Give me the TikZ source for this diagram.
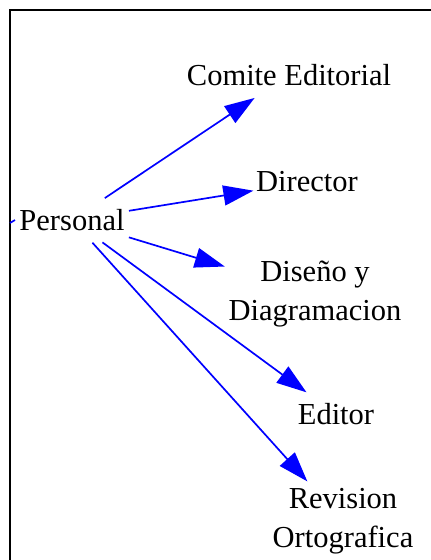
\documentclass[tikz,border=0pt]{standalone}
\usepackage{fontspec}
\setmainfont{Liberation Serif}
\usetikzlibrary{arrows.meta}
\begin{document}
\begin{tikzpicture}[x=1pt,y=-1pt,
  lbl/.style={inner sep=0pt, align=center, font=\fontsize{30.5}{39}\selectfont},
  edge/.style={draw={rgb,255:red,0;green,0;blue,255}, line width=1.7pt,
    -{Triangle[length=30pt,width=20pt]}},
  stub/.style={draw={rgb,255:red,0;green,0;blue,255}, line width=1.7pt}]
\useasboundingbox (0,0) rectangle (431,560);
\fill[white] (0,0) rectangle (431,560);
\draw[line width=2pt] (10,562) -- (10,10) -- (433,10);

\node[lbl] (personal) at (72,220) {Personal};
\node[lbl] (comite) at (289,75) {Comite Editorial};
\node[lbl] (director) at (307,182) {Director};
\node[lbl] (diseno) at (315,294) {Diseño y\\Diagramacion};
\node[lbl] (editor) at (336,414) {Editor};
\node[lbl] (revision) at (343,521) {Revision\\Ortografica};
\coordinate (lft) at (10,223);

\draw[stub] (lft) -- ([xshift=-57pt]personal.center);
\draw[edge, shorten <=39.4pt, shorten >=41.3pt] (personal.center) -- (comite.center);
\draw[edge, shorten <=57.7pt, shorten >=54.3pt] (personal.center) -- (director.center);
\draw[edge, shorten <=59.5pt, shorten >=94.3pt] (personal.center) -- (diseno.center);
\draw[edge, shorten <=37.8pt, shorten >=36.6pt] (personal.center) -- (editor.center);
\draw[edge, shorten <=30.5pt, shorten >=53.3pt] (personal.center) -- (revision.center);
\end{tikzpicture}
\end{document}
